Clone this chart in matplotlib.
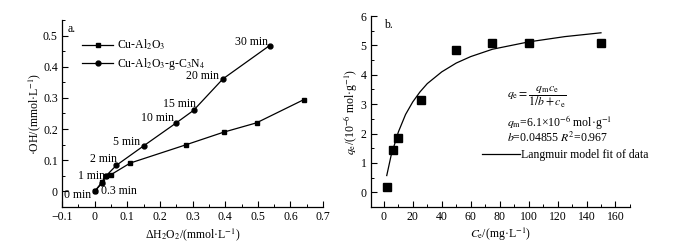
import matplotlib
matplotlib.use("Agg")
import matplotlib.pyplot as plt
import matplotlib.ticker as mticker
from matplotlib.lines import Line2D

plt.rcParams["font.family"] = ["Liberation Serif", "DejaVu Serif"]
plt.rcParams["mathtext.fontset"] = "stix"
plt.rcParams["font.size"] = 8.5

# panel a: hydroxyl radical vs consumed H2O2
al_x = [0, 0.022, 0.034, 0.049, 0.109, 0.281, 0.395, 0.496, 0.64]
al_y = [0, 0.029, 0.051, 0.053, 0.091, 0.150, 0.190, 0.220, 0.294]
cn_x = [0, 0.023, 0.036, 0.067, 0.150, 0.249, 0.303, 0.393, 0.536]
cn_y = [0, 0.027, 0.051, 0.084, 0.146, 0.219, 0.260, 0.361, 0.468]

time_labels = ["0 min", "0.3 min", "1 min", "2 min", "5 min", "10 min", "15 min", "20 min", "30 min"]
label_x = [-0.051, 0.074, -0.010, 0.026, 0.099, 0.194, 0.260, 0.330, 0.480]
label_y = [-0.013, 0.000, 0.051, 0.104, 0.160, 0.234, 0.281, 0.369, 0.481]

# panel b: adsorption isotherm
ce = [2, 6, 10, 26, 50, 75, 100, 150]
qe = [0.17, 1.43, 1.85, 3.13, 4.85, 5.09, 5.08, 5.08]
fit_ce = [2, 5, 10, 15, 20, 25, 30, 40, 50, 60, 75, 100, 125, 150]
fit_qe = [0.57, 1.25, 2.05, 2.65, 3.08, 3.42, 3.70, 4.10, 4.40, 4.62, 4.87, 5.12, 5.30, 5.43]


def style_axes(ax):
    ax.spines["top"].set_visible(False)
    ax.spines["right"].set_visible(False)
    ax.tick_params(which="both", direction="in", labelsize=8.5, pad=3)
    ax.tick_params(which="major", length=4, width=0.8)
    ax.tick_params(which="minor", length=2, width=0.7)
    for side in ("left", "bottom"):
        ax.spines[side].set_linewidth(0.9)


fig = plt.figure(figsize=(6.73, 2.47), dpi=100)
ax_a = fig.add_axes([0.0921, 0.162, 0.388, 0.757])
ax_b = fig.add_axes([0.551, 0.162, 0.385, 0.773])

# ---- panel a ----
ax_a.plot(al_x, al_y, color="black", lw=0.9, marker="s", ms=3.5, label="Cu-Al$_2$O$_3$")
ax_a.plot(cn_x, cn_y, color="black", lw=0.9, marker="o", ms=3.5, label="Cu-Al$_2$O$_3$-g-C$_3$N$_4$")
for text, tx, ty in zip(time_labels, label_x, label_y):
    ax_a.text(tx, ty, text, ha="center", va="center", fontsize=8.5)

ax_a.set_xlim(-0.1, 0.7)
ax_a.set_ylim(-0.05, 0.55)
ax_a.xaxis.set_major_locator(mticker.MultipleLocator(0.1))
ax_a.xaxis.set_minor_locator(mticker.MultipleLocator(0.05))
ax_a.yaxis.set_major_locator(mticker.FixedLocator([0, 0.1, 0.2, 0.3, 0.4, 0.5]))
ax_a.yaxis.set_minor_locator(mticker.MultipleLocator(0.05))
ax_a.xaxis.set_major_formatter(mticker.FuncFormatter(lambda v, p: "0" if abs(v) < 1e-9 else f"{v:.1f}".replace("-", "\u2212")))
ax_a.yaxis.set_major_formatter(mticker.FuncFormatter(lambda v, p: "0" if abs(v) < 1e-9 else f"{v:.1f}"))
style_axes(ax_a)
ax_a.set_xlabel("\u0394H$_2$O$_2$/(mmol\u00b7L$^{-1}$)", fontsize=8.5, labelpad=2)
ax_a.set_ylabel("\u00b7OH/(mmol\u00b7L$^{-1}$)", fontsize=8.5, labelpad=0)
ax_a.text(0.02, 0.985, "a.", transform=ax_a.transAxes, ha="left", va="top", fontsize=8.5)
ax_a.legend(loc="upper left", bbox_to_anchor=(0.06, 0.93), frameon=False, fontsize=8.5,
            handlelength=2.6, handletextpad=0.3, labelspacing=0.35, borderaxespad=0)

# ---- panel b ----
ax_b.plot(ce, qe, linestyle="none", marker="s", ms=6, color="black")
ax_b.plot(fit_ce, fit_qe, color="black", lw=0.9)
ax_b.set_xlim(-9, 170)
ax_b.set_ylim(-0.5, 6)
ax_b.xaxis.set_major_locator(mticker.FixedLocator([0, 20, 40, 60, 80, 100, 120, 140, 160]))
ax_b.xaxis.set_minor_locator(mticker.MultipleLocator(10))
ax_b.yaxis.set_major_locator(mticker.FixedLocator([0, 1, 2, 3, 4, 5, 6]))
ax_b.yaxis.set_minor_locator(mticker.MultipleLocator(0.5))
style_axes(ax_b)
ax_b.set_xlabel("$C_\\mathrm{e}$/(mg\u00b7L$^{-1}$)", fontsize=8.5, labelpad=2)
ax_b.set_ylabel("$q_\\mathrm{e}$/(10$^{-6}$ mol\u00b7g$^{-1}$)", fontsize=8.5, labelpad=1)
ax_b.text(0.05, 0.985, "b.", transform=ax_b.transAxes, ha="left", va="top", fontsize=8.5)

ax_b.text(0.525, 0.575, r"$q_\mathrm{e}=\dfrac{q_\mathrm{m}c_\mathrm{e}}{1/b+c_\mathrm{e}}$",
          transform=ax_b.transAxes, ha="left", va="center", fontsize=8.5)
ax_b.text(0.525, 0.447, "$q_\\mathrm{m}$=6.1\u00d710$^{-6}$ mol\u00b7g$^{-1}$",
          transform=ax_b.transAxes, ha="left", va="center", fontsize=8.5)
ax_b.text(0.525, 0.362, "$b$=0.04855 $R^2$=0.967",
          transform=ax_b.transAxes, ha="left", va="center", fontsize=8.5)
ax_b.legend([Line2D([], [], color="black", lw=0.9)], ["Langmuir model fit of data"],
            loc="center left", bbox_to_anchor=(0.41, 0.27), frameon=False, fontsize=8.5,
            handlelength=3.2, handletextpad=0.15, borderaxespad=0)

fig.savefig("out.png", dpi=100)
